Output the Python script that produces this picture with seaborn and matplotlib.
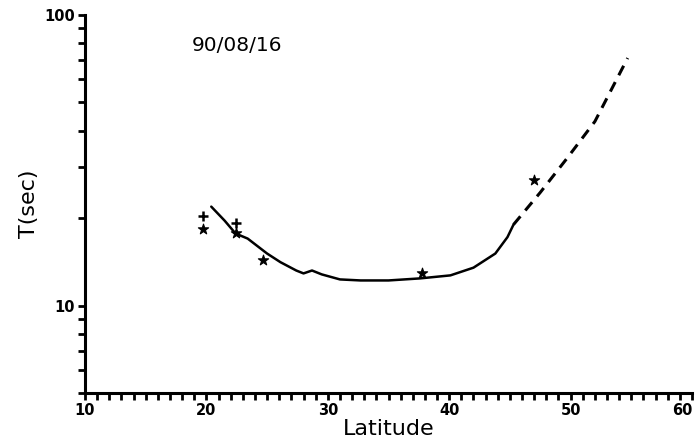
import numpy as np
import pandas as pd
import matplotlib
matplotlib.use("Agg")
import matplotlib.pyplot as plt
from matplotlib.ticker import FixedLocator, NullFormatter, LogLocator
import seaborn as sns

# Solid model curve
curve_lat = [20.4, 21.5, 22.4, 23.4, 25.0, 26.1, 27.4, 28.0, 28.7, 29.5, 31.0, 32.7, 35.0, 37.6, 40.1, 42.0, 43.8, 44.8, 45.3]
curve_T = [21.9, 19.6, 17.7, 17.0, 15.1, 14.1, 13.2, 12.9, 13.2, 12.8, 12.3, 12.2, 12.2, 12.4, 12.7, 13.5, 15.1, 17.2, 19.0]
# Dashed extrapolation
dash_lat = [45.3, 47.5, 49.7, 52.0, 54.7]
dash_T = [19.0, 24.5, 32.1, 43.0, 71.1]
# Observations
plus_lat = [19.7, 22.4]
plus_T = [20.4, 19.2]
star_lat = [19.7, 22.4, 24.7, 37.8, 47.0]
star_T = [18.4, 17.7, 14.3, 12.9, 27.0]
x_ticks = [10, 20, 30, 40, 50, 60]
y_ticks = [10, 100]

sns.set_style("ticks")
plt.rcParams['font.family'] = ['DejaVu Sans']
for k in ['text.color', 'axes.labelcolor', 'xtick.color', 'ytick.color', 'axes.edgecolor']:
    plt.rcParams[k] = 'black'

fig = plt.figure(figsize=(7.0, 4.41), dpi=100)
ax = fig.add_axes([85/700, 1 - 393/441, (692-85)/700, (393-15)/441])

sns.lineplot(x=curve_lat, y=curve_T, ax=ax, color='black', lw=1.8, sort=False, estimator=None)
sns.lineplot(x=dash_lat, y=dash_T, ax=ax, color='black', lw=2.2, sort=False, estimator=None,
             linestyle=(0, (3.5, 2.5)))
sns.scatterplot(x=plus_lat, y=plus_T, ax=ax, marker='+', color='black', s=60, linewidth=1.8)
sns.scatterplot(x=star_lat, y=star_T, ax=ax, marker='*', color='black', s=60, linewidth=0.8, edgecolor='black')

ax.set_yscale('log')
ax.set_xlim(10, 60)
ax.set_ylim(5, 100)
ax.xaxis.set_major_locator(FixedLocator(x_ticks))
ax.xaxis.set_minor_locator(FixedLocator(np.arange(10, 61, 1)))
ax.yaxis.set_major_locator(FixedLocator(y_ticks))
ax.yaxis.set_minor_locator(LogLocator(base=10, subs=np.arange(2, 10)))
ax.yaxis.set_minor_formatter(NullFormatter())
ax.set_yticklabels([str(v) for v in y_ticks])
ax.set_xticklabels([str(v) for v in x_ticks])

for s in ['top', 'right']:
    ax.spines[s].set_visible(False)
for s in ['left', 'bottom']:
    ax.spines[s].set_linewidth(2.2)
ax.tick_params(axis='both', which='major', length=5, width=2, labelsize=10.5, pad=2, direction='out')
ax.tick_params(axis='both', which='minor', length=5, width=2, direction='out')
for lbl in ax.get_xticklabels() + ax.get_yticklabels():
    lbl.set_fontweight('bold')
ax.get_xticklabels()[-1].set_horizontalalignment('right')

ax.set_xlabel('Latitude', fontsize=16, labelpad=1)
ax.set_ylabel('T(sec)', fontsize=16, labelpad=4)
ax.text(0.25, 0.92, '90/08/16', transform=ax.transAxes, fontsize=14.5, ha='center', va='center')

fig.savefig('out.png', dpi=100)
